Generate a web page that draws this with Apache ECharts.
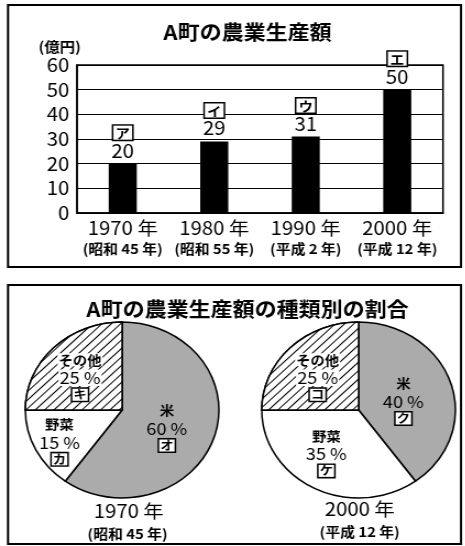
<!DOCTYPE html>
<html><head><meta charset="utf-8">
<script src="https://cdn.jsdelivr.net/npm/echarts@6/dist/echarts.min.js"></script>
<style>html,body{margin:0;padding:0;background:#fff;overflow:hidden}#c{width:423px;height:546px;transform:scaleX(1.1);transform-origin:0 0}</style>
</head><body><div id="c"></div>
<script>
const years = ['1970 年', '1980 年', '1990 年', '2000 年'];
const eras = ['(昭和 45 年)', '(昭和 55 年)', '(平成 2 年)', '(平成 12 年)'];
const production = [20, 29, 31, 50];
const barMarks = ['ア', 'イ', 'ウ', 'エ'];
const yMin = 0, yMax = 60, yStep = 10;

const pieCategories = ['米', '野菜', 'その他'];
const share1970 = [60, 15, 25];
const share2000 = [40, 35, 25];
const marks1970 = ['オ', 'カ', 'キ'];
const marks2000 = ['ク', 'ケ', 'コ'];
const pieYears = ['1970 年', '2000 年'];
const pieEras = ['(昭和 45 年)', '(平成 12 年)'];

const FONT = '"Noto Sans CJK JP", "Noto Sans", sans-serif';
const chart = echarts.init(document.getElementById('c'), null, {renderer: 'canvas'});

const hatch = {symbol: 'rect', symbolSize: 1, dashArrayX: [1, 0], dashArrayY: [1, 4.2], rotation: -Math.PI / 4, color: '#000', backgroundColor: '#fff'};
const sliceStyles = [
  {color: '#ababab', borderColor: '#000', borderWidth: 1.5},
  {color: '#fff', borderColor: '#000', borderWidth: 1.5},
  {color: '#fff', borderColor: '#000', borderWidth: 1.5, decal: hatch}
];
function makeRich(bg) {
  return {
    n: {fontSize: 13, fontWeight: 'bold', fontFamily: FONT, color: '#000', lineHeight: 17, backgroundColor: bg, padding: [0, 1]},
    p: {fontSize: 16.5, fontFamily: FONT, color: '#000', lineHeight: 19, backgroundColor: bg, padding: [0, 1]},
    b: {fontSize: 12, fontWeight: 'bold', fontFamily: FONT, color: '#000', backgroundColor: '#fff', borderColor: '#000', borderWidth: 1.5, padding: [0, 1, 0, 1], lineHeight: 15}
  };
}
function pieData(vals, marks) {
  return pieCategories.map((n, i) => ({
    name: n, value: vals[i], mark: marks[i], itemStyle: sliceStyles[i],
    label: {rich: makeRich(i === 2 ? '#fff' : 'transparent')}
  }));
}
function pieSeries(vals, marks, cx, shifts) {
  return {
    type: 'pie', center: [cx, 410], radius: [0, 88], startAngle: 90, clockwise: true,
    data: pieData(vals, marks), silent: true, animation: false,
    label: {show: true, position: 'inside', formatter: p => `{n|${p.name}}\n{p|${p.value} %}\n{b|${p.data.mark}}`, rich: makeRich('transparent')},
    labelLine: {show: false},
    labelLayout: p => shifts[p.dataIndex]
  };
}

chart.setOption({
  animation: false,
  title: [
    {text: 'A町の農業生産額', left: 220, top: 17, textAlign: 'center', textStyle: {fontSize: 20, fontWeight: 'bold', fontFamily: FONT, color: '#000'}},
    {text: '(億円)', left: 30, top: 35, textStyle: {fontSize: 14, fontWeight: 'bold', fontFamily: FONT, color: '#000'}},
    {text: 'A町の農業生産額の種類別の割合', left: 220, top: 294, textAlign: 'center', textStyle: {fontSize: 20, fontWeight: 'bold', fontFamily: FONT, color: '#000'}},
    {text: pieYears[0], left: 112, top: 497, textAlign: 'center', textStyle: {fontSize: 18.5, fontWeight: 'normal', fontFamily: FONT, color: '#000'}},
    {text: pieEras[0], left: 111, top: 522, textAlign: 'center', textStyle: {fontSize: 13.5, fontWeight: 'bold', fontFamily: FONT, color: '#000'}},
    {text: pieYears[1], left: 322, top: 495, textAlign: 'center', textStyle: {fontSize: 18.5, fontWeight: 'normal', fontFamily: FONT, color: '#000'}},
    {text: pieEras[1], left: 322, top: 520, textAlign: 'center', textStyle: {fontSize: 13.5, fontWeight: 'bold', fontFamily: FONT, color: '#000'}}
  ],
  graphic: [
    {type: 'rect', shape: {x: 7.3, y: 5, width: 411.8, height: 262}, style: {fill: 'none', stroke: '#000', lineWidth: 2}, silent: true},
    {type: 'rect', shape: {x: 7.3, y: 285, width: 411.8, height: 259}, style: {fill: 'none', stroke: '#000', lineWidth: 2}, silent: true}
  ],
  grid: {left: 70, right: 20.3, top: 65, bottom: 333, show: true, borderColor: '#000', borderWidth: 1.5, backgroundColor: 'transparent'},
  xAxis: {
    type: 'category', data: years,
    axisLine: {lineStyle: {color: '#000', width: 1.5}}, axisTick: {show: false},
    axisLabel: {
      interval: 0, margin: 3,
      formatter: (v, i) => `{y|${v}}\n{e|${eras[i]}}`,
      rich: {
        y: {fontSize: 18.5, fontFamily: FONT, color: '#000', lineHeight: 23},
        e: {fontSize: 13.5, fontWeight: 'bold', fontFamily: FONT, color: '#000', lineHeight: 19}
      }
    }
  },
  yAxis: {
    type: 'value', min: yMin, max: yMax, interval: yStep,
    axisLine: {show: true, lineStyle: {color: '#000', width: 1.5}}, axisTick: {show: false},
    axisLabel: {fontSize: 18.5, fontFamily: FONT, color: '#000', margin: 7},
    splitLine: {lineStyle: {color: '#000', width: 1}}
  },
  series: [
    {
      type: 'bar', data: production, barWidth: 25.5, itemStyle: {color: '#000'},
      label: {
        show: true, position: 'top', distance: 3,
        formatter: p => `{b|${barMarks[p.dataIndex]}}\n{v|${p.value}}`,
        rich: {
          b: {fontSize: 13, fontWeight: 'bold', fontFamily: FONT, color: '#000', backgroundColor: '#fff', borderColor: '#000', borderWidth: 1.5, padding: [1, 2, 0, 2], lineHeight: 16},
          v: {fontSize: 18.5, fontFamily: FONT, color: '#000', lineHeight: 20}
        }
      }
    },
    pieSeries(share1970, marks1970, 111, [{dx: -4, dy: 3}, {dx: -15, dy: 10}, {dx: -5, dy: 0}]),
    pieSeries(share2000, marks2000, 326, [{dx: -4, dy: 5}, {dx: -8, dy: 1}, {dx: -4, dy: 0}])
  ]
});
</script></body></html>
